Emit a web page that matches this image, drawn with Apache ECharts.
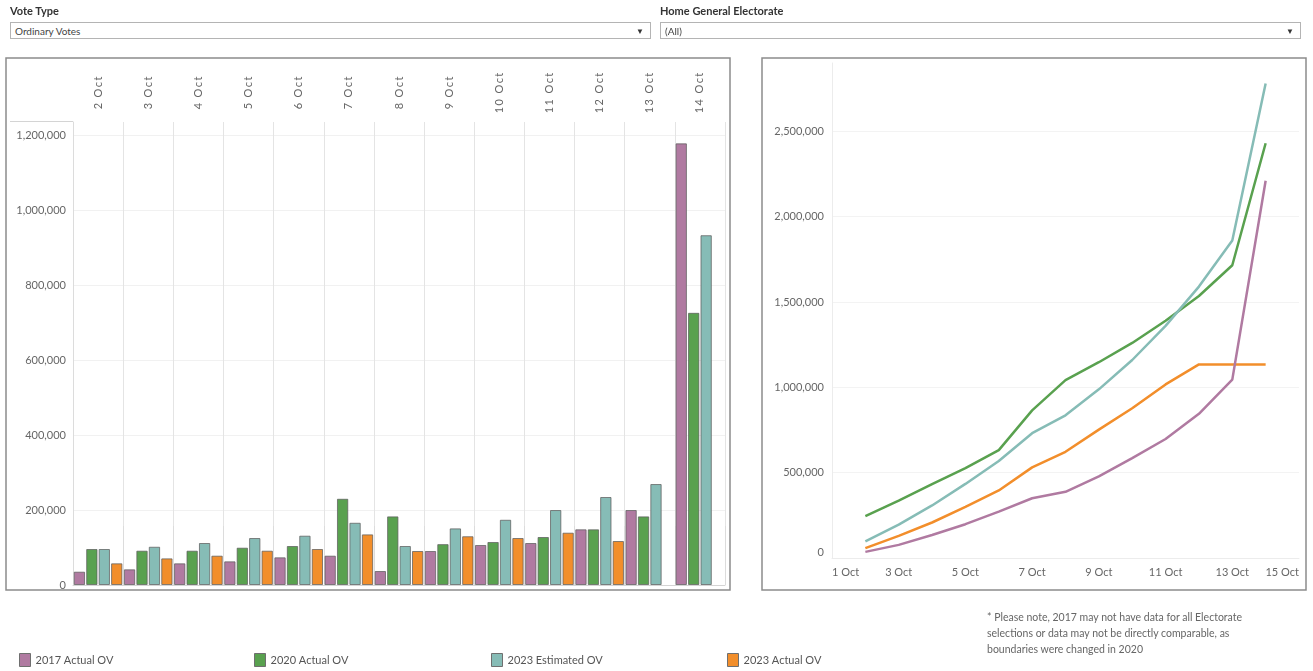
<!DOCTYPE html>
<html>
<head>
<meta charset="utf-8">
<script src="https://cdn.jsdelivr.net/npm/echarts@6/dist/echarts.min.js"></script>
<style>
  html, body { margin: 0; padding: 0; background: #fff; font-family: Lato, "Open Sans", sans-serif; }
  #wrap { position: relative; width: 1313px; height: 671px; overflow: hidden; }
  #chart { position: absolute; left: 0; top: 0; width: 1313px; height: 671px; }
  .flabel { position: absolute; top: 4px; font-size: 11px; font-weight: bold; color: #333; }
  .dd { position: absolute; top: 22px; height: 17px; border: 1px solid #b4b4b4; background: #fff; font-size: 10px; color: #444; line-height: 17px; box-sizing: border-box; padding-left: 4px; }
  .dd span.arr { position: absolute; right: 6px; top: 0; font-size: 8px; color: #333; }
  #note { position: absolute; left: 987px; top: 609px; font-size: 10.5px; color: #666; line-height: 16px; }
</style>
</head>
<body>
<div id="wrap">
  <div id="chart"></div>
  <div class="flabel" style="left:10px;">Vote Type</div>
  <div class="dd" style="left:10px; width:641px;">Ordinary Votes<span class="arr">&#9660;</span></div>
  <div class="flabel" style="left:660px;">Home General Electorate</div>
  <div class="dd" style="left:660px; width:641px;">(All)<span class="arr">&#9660;</span></div>
  <div id="note">* Please note, 2017 may not have data for all Electorate<br>selections or data may not be directly comparable, as<br>boundaries were changed in 2020</div>
</div>
<script>
// ---------- data ----------
var categories = ['2 Oct','3 Oct','4 Oct','5 Oct','6 Oct','7 Oct','8 Oct','9 Oct','10 Oct','11 Oct','12 Oct','13 Oct','14 Oct'];
var seriesNames = ['2017 Actual OV','2020 Actual OV','2023 Estimated OV','2023 Actual OV'];

// daily ordinary votes (bar chart)
var bar2017 = [35500, 41800, 57800, 63100, 73800, 78200, 37300, 90700, 106700, 112000, 148500, 200000, 1178000];
var bar2020 = [96000, 91500, 91500, 99500, 104000, 230000, 183000, 109000, 114700, 128000, 148500, 183000, 726000];
var bar2023Est = [96000, 102000, 112000, 125300, 131500, 166000, 104000, 151000, 174000, 200000, 234700, 269300, 933000];
var bar2023Act = [57800, 71000, 78200, 91500, 96000, 135000, 90700, 130000, 125300, 139500, 117300, null, null];

// cumulative ordinary votes (line chart), x = day of October
var lineDays = [2, 3, 4, 5, 6, 7, 8, 9, 10, 11, 12, 13, 14];
var line2017 = [36000, 77000, 135000, 198000, 272000, 350000, 388000, 478000, 585000, 697000, 845000, 1045000, 2210000];
var line2020 = [245000, 336000, 433000, 527000, 632000, 865000, 1042000, 1147000, 1260000, 1390000, 1535000, 1715000, 2430000];
var line2023Est = [98000, 196000, 308000, 434000, 568000, 731000, 836000, 988000, 1160000, 1360000, 1590000, 1860000, 2780000];
var line2023Act = [58000, 130000, 208000, 300000, 396000, 531000, 622000, 752000, 877000, 1017000, 1134000, 1134000, 1134000];

var colors = ['#B07AA1', '#59A14F', '#86BCB6', '#F28E2B'];

// ---------- build ----------
var barData = [bar2017, bar2020, bar2023Est, bar2023Act];
var lineData = [line2017, line2020, line2023Est, line2023Act];
function pairs(vals) { return lineDays.map(function (d, i) { return [d, vals[i]]; }); }
function fmt(v) { return Math.round(v).toLocaleString('en-US'); }

var series = [];
seriesNames.forEach(function (n, i) {
  series.push({
    name: n, type: 'bar', xAxisIndex: 0, yAxisIndex: 0,
    data: barData[i],
    barGap: '10%', barCategoryGap: '3%',
    itemStyle: { color: colors[i], borderColor: 'rgba(95,95,95,0.75)', borderWidth: 1 },
    emphasis: { disabled: true }
  });
});
seriesNames.forEach(function (n, i) {
  series.push({
    name: n, type: 'line', xAxisIndex: 1, yAxisIndex: 1,
    data: pairs(lineData[i]),
    showSymbol: false, symbol: 'none',
    lineStyle: { color: colors[i], width: 2.5 },
    itemStyle: { color: colors[i] },
    z: 3 + (i === 0 ? 1 : 0),
    emphasis: { disabled: true }
  });
});

var legendX = [14, 249, 486, 722];
var legends = seriesNames.map(function (n, i) {
  return {
    left: legendX[i], top: 648,
    itemWidth: 11, itemHeight: 13, itemGap: 6,
    textStyle: { fontSize: 11, color: '#555', fontFamily: 'Lato' },
    selectedMode: false,
    data: [{ name: n, icon: 'rect', itemStyle: { color: colors[i], borderColor: '#6f6f6f', borderWidth: 1 } }]
  };
});

var axisTxt = { color: '#666', fontSize: 11, fontFamily: 'Lato' };

var option = {
  animation: false,
  textStyle: { fontFamily: 'Lato' },
  legend: legends,
  grid: [
    { left: 73, top: 122, width: 652, height: 463, containLabel: false },
    { left: 832, top: 63, width: 467, height: 495, containLabel: false }
  ],
  xAxis: [
    {
      gridIndex: 0, type: 'category', position: 'top', data: categories,
      boundaryGap: true,
      axisLine: { show: true, lineStyle: { color: '#d4d4d4', width: 1 } },
      axisTick: { show: true, interval: 0, length: 59, lineStyle: { color: '#dcdcdc', width: 1 } },
      axisLabel: {
        interval: 0, rotate: 90, margin: 29, align: 'center', verticalAlign: 'middle',
        color: '#666', fontSize: 11, fontFamily: 'Lato',
        formatter: function (v) { return v.split('').join('\u2009'); }
      },
      splitLine: { show: true, interval: 0, lineStyle: { color: '#e4e4e4', width: 1 } }
    },
    {
      gridIndex: 1, type: 'value', min: 1, max: 15, interval: 2,
      axisLine: { show: true, lineStyle: { color: '#ececec' } },
      axisTick: { show: false },
      axisLabel: Object.assign({ margin: 9, alignMinLabel: 'left', alignMaxLabel: 'right',
        formatter: function (v) { return v + ' Oct'; } }, axisTxt),
      splitLine: { show: false }
    }
  ],
  yAxis: [
    {
      gridIndex: 0, type: 'value', min: 0, max: 1235000, interval: 200000,
      axisLine: { show: true, lineStyle: { color: '#dcdcdc' } },
      axisTick: { show: false },
      axisLabel: Object.assign({ margin: 7, showMaxLabel: false, formatter: fmt }, axisTxt),
      splitLine: { show: true, showMaxLine: false, lineStyle: { color: '#f1f1f1' } }
    },
    {
      gridIndex: 1, type: 'value', min: 0, max: 2900000, interval: 500000,
      axisLine: { show: true, lineStyle: { color: '#ececec' } },
      axisTick: { show: false },
      axisLabel: Object.assign({ margin: 8, showMaxLabel: false, verticalAlignMinLabel: 'bottom', formatter: fmt }, axisTxt),
      splitLine: { show: true, showMaxLine: false, lineStyle: { color: '#f3f3f3' } }
    }
  ],
  graphic: [
    { type: 'rect', shape: { x: 6, y: 58, width: 724, height: 532 }, style: { fill: 'none', stroke: '#8c8c8c', lineWidth: 1.5 }, silent: true, z: 10 },
    { type: 'rect', shape: { x: 762, y: 58, width: 544, height: 532 }, style: { fill: 'none', stroke: '#8c8c8c', lineWidth: 1.5 }, silent: true, z: 10 },
    { type: 'line', shape: { x1: 10, y1: 121.5, x2: 73, y2: 121.5 }, style: { stroke: '#d4d4d4', lineWidth: 1 }, silent: true }
  ],
  series: series
};

var chart = echarts.init(document.getElementById('chart'), null, { renderer: 'canvas' });
chart.setOption(option);
</script>
</body>
</html>
